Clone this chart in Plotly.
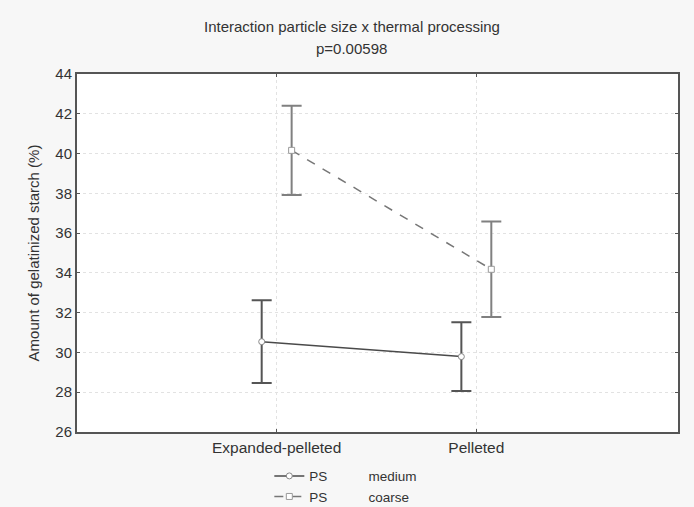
import plotly.graph_objects as go

categories = ["Expanded-pelleted", "Pelleted"]
medium_mean = [30.54, 29.79]
medium_err = [2.08, 1.73]
coarse_mean = [40.16, 34.18]
coarse_err = [2.24, 2.40]
y_ticks = [26, 28, 30, 32, 34, 36, 38, 40, 42, 44]

OFF = 0.075
pos = list(range(len(categories)))
FONT = "Liberation Sans, Arial"

fig = go.Figure()
fig.add_trace(go.Scatter(
    x=[p - OFF for p in pos], y=medium_mean,
    mode="lines+markers",
    name="PS" + "&nbsp;" * 11 + "medium",
    line=dict(color="#4a4a4a", width=1.5),
    marker=dict(symbol="circle", size=6, color="white", line=dict(color="#888", width=1)),
    error_y=dict(type="data", array=medium_err, visible=True, color="#555555", thickness=2, width=10),
))
fig.add_trace(go.Scatter(
    x=[p + OFF for p in pos], y=coarse_mean,
    mode="lines+markers",
    name="PS" + "&nbsp;" * 11 + "coarse",
    line=dict(color="#777777", width=1.5, dash="dash"),
    marker=dict(symbol="square", size=6, color="white", line=dict(color="#999", width=1)),
    error_y=dict(type="data", array=coarse_err, visible=True, color="#808080", thickness=2, width=10),
))

axis_common = dict(
    showline=True, linecolor="#555555", linewidth=2, mirror="ticks",
    ticks="inside", ticklen=3, tickcolor="#555555",
    showgrid=True, gridcolor="#e2e2e2", griddash="dot", gridwidth=1,
    zeroline=False,
)

fig.update_layout(
    width=694, height=507,
    margin=dict(l=77, r=16, t=74, b=75, autoexpand=False),
    paper_bgcolor="#f7f7f7", plot_bgcolor="white",
    font=dict(family=FONT, size=15, color="#333333"),
    xaxis=dict(range=[-1.0, 2.01], tickvals=pos, ticktext=categories,
               tickfont=dict(family=FONT, size=15.5, color="#333333"), **axis_common),
    yaxis=dict(range=[26, 44], tickvals=y_ticks,
               tickfont=dict(family=FONT, size=15, color="#333333"),
               title=dict(text="Amount of gelatinized starch (%)", standoff=12,
                          font=dict(size=15, color="#333333")),
               **axis_common),
    legend=dict(x=0.32, y=-0.08, xanchor="left", yanchor="top",
                bgcolor="rgba(0,0,0,0)", font=dict(size=13.5, color="#333333"),
                tracegroupgap=0, itemwidth=30),
    showlegend=True,
    annotations=[
        dict(text="Interaction particle size x thermal processing", xref="paper", yref="paper",
             x=0.457, y=1 + (74 - 27) / 358, showarrow=False, xanchor="center", yanchor="middle",
             font=dict(size=15, color="#333333")),
        dict(text="p=0.00598", xref="paper", yref="paper",
             x=0.457, y=1 + (74 - 48) / 358, showarrow=False, xanchor="center", yanchor="middle",
             font=dict(size=15, color="#333333")),
    ],
)

fig.write_html("out.html", config={"displayModeBar": False},
               post_script="document.body.style.margin='0';document.body.style.overflow='hidden';")
